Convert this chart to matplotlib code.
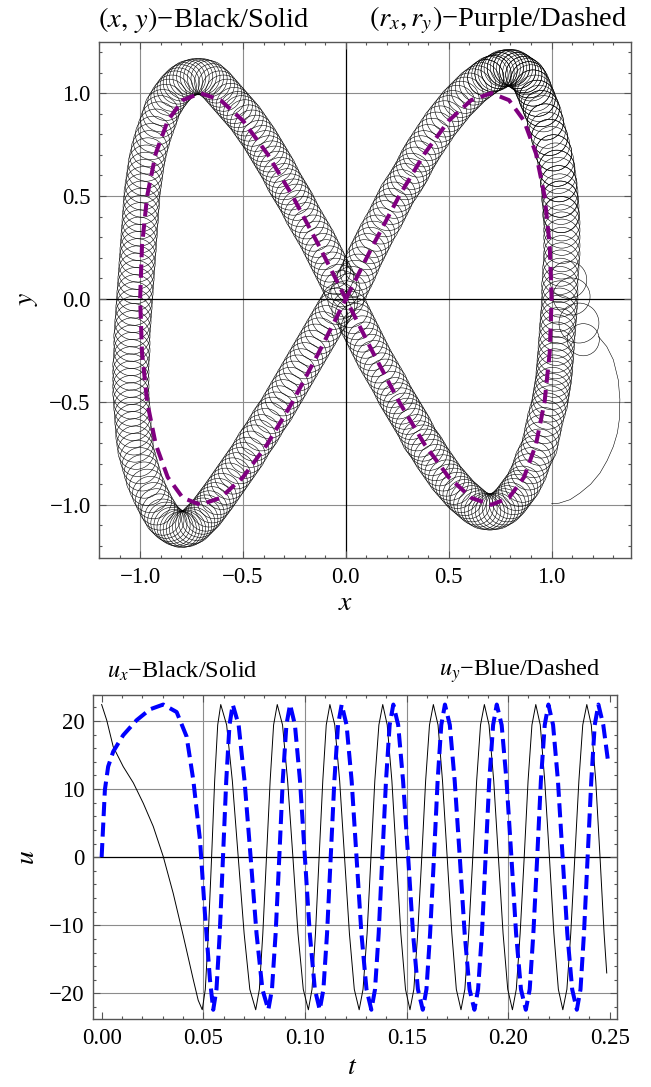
import matplotlib
matplotlib.use('Agg')
import matplotlib.pyplot as plt
from matplotlib.patches import Circle
from matplotlib.ticker import MultipleLocator, FuncFormatter

plt.rcParams['font.family'] = ['Liberation Serif', 'DejaVu Serif']
plt.rcParams['mathtext.fontset'] = 'stix'

# reference path (r_x, r_y)
rx = [0.0, 0.131, 0.259, 0.383, 0.5, 0.609, 0.707, 0.793, 0.866, 0.924, 0.966, 0.991, 1.0,
      0.991, 0.966, 0.924, 0.866, 0.793, 0.707, 0.609, 0.5, 0.383, 0.259, 0.131, 0.0,
      -0.131, -0.259, -0.383, -0.5, -0.609, -0.707, -0.793, -0.866, -0.924, -0.966, -0.991, -1.0,
      -0.991, -0.966, -0.924, -0.866, -0.793, -0.707, -0.609, -0.5, -0.383, -0.259, -0.131, 0.0]
ry = [0.0, 0.259, 0.5, 0.707, 0.866, 0.966, 1.0, 0.966, 0.866, 0.707, 0.5, 0.259, 0.0,
      -0.259, -0.5, -0.707, -0.866, -0.966, -1.0, -0.966, -0.866, -0.707, -0.5, -0.259, 0.0,
      0.259, 0.5, 0.707, 0.866, 0.966, 1.0, 0.966, 0.866, 0.707, 0.5, 0.259, 0.0,
      -0.259, -0.5, -0.707, -0.866, -0.966, -1.0, -0.966, -0.866, -0.707, -0.5, -0.259, 0.0]

# centres of the loops of (x, y), right lobe
right_cx = [0.00, 0.03, 0.06, 0.09, 0.12, 0.15, 0.19, 0.22, 0.25, 0.29,
            0.32, 0.35, 0.38, 0.42, 0.46, 0.50, 0.54, 0.58, 0.62, 0.66,
            0.70, 0.73, 0.76, 0.79, 0.82, 0.85, 0.88, 0.90, 0.92, 0.94,
            0.96, 0.98, 1.00, 1.02, 1.03, 1.04, 1.045, 1.05, 1.05, 1.05,
            1.045, 1.04, 1.04, 1.035, 1.03, 1.025, 1.02, 1.015, 1.01, 1.00,
            0.99, 0.97, 0.955, 0.94, 0.91, 0.89, 0.86, 0.83, 0.80, 0.77,
            0.735, 0.70, 0.665, 0.63, 0.595, 0.56, 0.525, 0.49, 0.455, 0.42,
            0.39, 0.36, 0.33, 0.30, 0.27, 0.24, 0.21, 0.175, 0.14, 0.11,
            0.08, 0.05, 0.02]
right_cy = [0.00, 0.07, 0.13, 0.20, 0.26, 0.32, 0.39, 0.45, 0.51, 0.57,
            0.62, 0.68, 0.73, 0.79, 0.85, 0.90, 0.95, 0.99, 1.03, 1.06,
            1.09, 1.10, 1.12, 1.125, 1.12, 1.10, 1.08, 1.05, 1.00, 0.95,
            0.90, 0.82, 0.75, 0.67, 0.60, 0.52, 0.45, 0.37, 0.30, 0.22,
            0.15, 0.07, 0.00, -0.07, -0.13, -0.20, -0.27, -0.33, -0.39, -0.45,
            -0.51, -0.58, -0.65, -0.72, -0.78, -0.84, -0.90, -0.94, -0.98, -1.01,
            -1.03, -1.035, -1.03, -1.01, -0.98, -0.95, -0.91, -0.87, -0.82, -0.77,
            -0.72, -0.68, -0.62, -0.57, -0.52, -0.47, -0.41, -0.35, -0.29, -0.23,
            -0.17, -0.11, -0.05]
# loops lying between those above
right_cx2 = [0.015, 0.045, 0.075, 0.105, 0.135, 0.17, 0.205, 0.235, 0.27, 0.305,
             0.335, 0.365, 0.40, 0.44, 0.48, 0.52, 0.56, 0.60, 0.64, 0.68,
             0.715, 0.745, 0.775, 0.805, 0.835, 0.865, 0.89, 0.91, 0.93, 0.95,
             0.97, 0.99, 1.01, 1.025, 1.035, 1.0425, 1.0475, 1.05, 1.05, 1.0475,
             1.0425, 1.04, 1.0375, 1.0325, 1.0275, 1.0225, 1.0175, 1.0125, 1.005, 0.995,
             0.98, 0.9625, 0.9475, 0.925, 0.90, 0.875, 0.845, 0.815, 0.785, 0.7525,
             0.7175, 0.6825, 0.6475, 0.6125, 0.5775, 0.5425, 0.5075, 0.4725, 0.4375, 0.405,
             0.375, 0.345, 0.315, 0.285, 0.255, 0.225, 0.1925, 0.1575, 0.125, 0.095,
             0.065, 0.035]
right_cy2 = [0.035, 0.10, 0.165, 0.23, 0.29, 0.355, 0.42, 0.48, 0.54, 0.595,
             0.65, 0.705, 0.76, 0.82, 0.875, 0.925, 0.97, 1.01, 1.045, 1.075,
             1.095, 1.11, 1.1225, 1.1225, 1.11, 1.09, 1.065, 1.025, 0.975, 0.925,
             0.86, 0.785, 0.71, 0.635, 0.56, 0.485, 0.41, 0.335, 0.26, 0.185,
             0.11, 0.035, -0.035, -0.10, -0.165, -0.235, -0.30, -0.36, -0.42, -0.48,
             -0.545, -0.615, -0.685, -0.75, -0.81, -0.87, -0.92, -0.96, -0.995, -1.02,
             -1.0325, -1.0325, -1.02, -0.995, -0.965, -0.93, -0.89, -0.845, -0.795, -0.745,
             -0.70, -0.65, -0.595, -0.545, -0.495, -0.44, -0.38, -0.32, -0.26, -0.20,
             -0.14, -0.08]

# left lobe
left_cx = [-0.02, -0.05, -0.08, -0.11, -0.14, -0.175, -0.21, -0.24, -0.27, -0.30,
           -0.33, -0.36, -0.39, -0.42, -0.455, -0.49, -0.525, -0.56, -0.595, -0.63,
           -0.665, -0.70, -0.735, -0.77, -0.80, -0.83, -0.86, -0.89, -0.91, -0.935,
           -0.955, -0.97, -0.98, -0.99, -0.995, -1.00, -1.005, -1.01, -1.015, -1.02,
           -1.025, -1.03, -1.035, -1.04, -1.04, -1.045, -1.045, -1.045, -1.04, -1.035,
           -1.03, -1.02, -1.00, -0.98, -0.95, -0.92, -0.89, -0.86, -0.83, -0.80,
           -0.77, -0.74, -0.71, -0.68, -0.65, -0.62, -0.585, -0.55, -0.515, -0.48,
           -0.445, -0.41, -0.375, -0.34, -0.305, -0.27, -0.235, -0.20, -0.165, -0.13,
           -0.095, -0.06, -0.03]
left_cy = [0.05, 0.11, 0.17, 0.23, 0.29, 0.35, 0.41, 0.47, 0.52, 0.57,
           0.63, 0.68, 0.73, 0.78, 0.83, 0.88, 0.92, 0.96, 1.00, 1.04,
           1.07, 1.08, 1.08, 1.07, 1.05, 1.02, 0.98, 0.93, 0.87, 0.80,
           0.73, 0.66, 0.59, 0.52, 0.45, 0.38, 0.31, 0.24, 0.17, 0.10,
           0.03, -0.04, -0.11, -0.18, -0.25, -0.32, -0.39, -0.46, -0.53, -0.60,
           -0.67, -0.74, -0.81, -0.88, -0.95, -1.01, -1.06, -1.09, -1.11, -1.12,
           -1.115, -1.10, -1.07, -1.04, -1.00, -0.96, -0.91, -0.86, -0.81, -0.76,
           -0.70, -0.65, -0.59, -0.54, -0.48, -0.42, -0.36, -0.30, -0.24, -0.18,
           -0.12, -0.06, -0.01]
left_cx2 = [-0.035, -0.065, -0.095, -0.125, -0.1575, -0.1925, -0.225, -0.255, -0.285, -0.315,
            -0.345, -0.375, -0.405, -0.4375, -0.4725, -0.5075, -0.5425, -0.5775, -0.6125, -0.6475,
            -0.6825, -0.7175, -0.7525, -0.785, -0.815, -0.845, -0.875, -0.90, -0.9225, -0.945,
            -0.9625, -0.975, -0.985, -0.9925, -0.9975, -1.0025, -1.0075, -1.0125, -1.0175, -1.0225,
            -1.0275, -1.0325, -1.0375, -1.04, -1.0425, -1.045, -1.045, -1.0425, -1.0375, -1.0325,
            -1.025, -1.01, -0.99, -0.965, -0.935, -0.905, -0.875, -0.845, -0.815, -0.785,
            -0.755, -0.725, -0.695, -0.665, -0.635, -0.6025, -0.5675, -0.5325, -0.4975, -0.4625,
            -0.4275, -0.3925, -0.3575, -0.3225, -0.2875, -0.2525, -0.2175, -0.1825, -0.1475, -0.1125,
            -0.0775, -0.045]
left_cy2 = [0.08, 0.14, 0.20, 0.26, 0.32, 0.38, 0.44, 0.495, 0.545, 0.60,
            0.655, 0.705, 0.755, 0.805, 0.855, 0.90, 0.94, 0.98, 1.02, 1.055,
            1.075, 1.08, 1.075, 1.06, 1.035, 1.00, 0.955, 0.90, 0.835, 0.765,
            0.695, 0.625, 0.555, 0.485, 0.415, 0.345, 0.275, 0.205, 0.135, 0.065,
            -0.005, -0.075, -0.145, -0.215, -0.285, -0.355, -0.425, -0.495, -0.565, -0.635,
            -0.705, -0.775, -0.845, -0.915, -0.98, -1.035, -1.075, -1.10, -1.115, -1.1175,
            -1.1075, -1.085, -1.055, -1.02, -0.98, -0.935, -0.885, -0.835, -0.785, -0.73,
            -0.675, -0.62, -0.565, -0.51, -0.45, -0.39, -0.33, -0.27, -0.21, -0.15,
            -0.09, -0.035]

# second pass over the upper right side
extra_cx = [1.045, 1.04, 1.035, 1.025, 1.01, 0.99, 0.97, 0.95, 0.93, 0.91,
            0.89, 0.865, 0.835, 0.805, 0.775, 0.745, 0.715, 0.68]
extra_cy = [0.41, 0.485, 0.56, 0.635, 0.71, 0.785, 0.86, 0.925, 0.975, 1.025,
            1.065, 1.09, 1.11, 1.125, 1.12, 1.11, 1.095, 1.075]

# start of the trajectory
start_x = [1.0, 1.037, 1.09, 1.138, 1.19, 1.235, 1.27, 1.30, 1.32, 1.329, 1.332,
           1.324, 1.30, 1.268, 1.227]
start_y = [-0.995, -0.992, -0.975, -0.943, -0.90, -0.846, -0.785, -0.717, -0.65, -0.587, -0.488,
           -0.393, -0.295, -0.231, -0.182]
start_loop_x = [1.154, 1.133, 1.097, 1.081]
start_loop_y = [-0.198, -0.117, 0.012, 0.093]
start_loop_r = [0.078, 0.097, 0.09, 0.09]
loop_r = 0.088

# control inputs
t_ux = [0.0, 0.0025, 0.0057, 0.0106, 0.0156, 0.0205, 0.0254, 0.0303, 0.0352, 0.0402, 0.0451, 0.0475, 0.0495,
        0.0510, 0.0525, 0.0541, 0.0556, 0.0571, 0.0586,
        0.0615, 0.0643, 0.0672, 0.0701, 0.0729, 0.0758,
        0.0776, 0.0793, 0.0811, 0.0829, 0.0846, 0.0864,
        0.0890, 0.0915, 0.0941, 0.0966, 0.0992, 0.1017,
        0.1035, 0.1052, 0.1070, 0.1088, 0.1105, 0.1123,
        0.1147, 0.1171, 0.1195, 0.1219, 0.1243, 0.1267,
        0.1286, 0.1306, 0.1325, 0.1344, 0.1364, 0.1383,
        0.1405, 0.1428, 0.1450, 0.1472, 0.1495, 0.1517,
        0.1536, 0.1555, 0.1575, 0.1594, 0.1613, 0.1632,
        0.1655, 0.1677, 0.1700, 0.1723, 0.1745, 0.1768,
        0.1787, 0.1806, 0.1826, 0.1845, 0.1864, 0.1883,
        0.1906, 0.1929, 0.1952, 0.1975, 0.1998, 0.2021,
        0.2040, 0.2059, 0.2079, 0.2098, 0.2117, 0.2136,
        0.2158, 0.2180, 0.2203, 0.2225, 0.2247, 0.2269,
        0.2289, 0.2308, 0.2328, 0.2348, 0.2367, 0.2387,
        0.2409, 0.2431, 0.2452, 0.2472, 0.2485]
ux = [22.4, 20.1, 16.2, 13.3, 10.9, 7.9, 4.5, 0.1, -5.3, -11.6, -18.0, -21.0, -22.4,
      -19.4, -11.2, 0.0, 11.2, 19.4, 22.4,
      19.4, 11.2, 0.0, -11.2, -19.4, -22.4,
      -19.4, -11.2, 0.0, 11.2, 19.4, 22.4,
      19.4, 11.2, 0.0, -11.2, -19.4, -22.4,
      -19.4, -11.2, 0.0, 11.2, 19.4, 22.4,
      19.4, 11.2, 0.0, -11.2, -19.4, -22.4,
      -19.4, -11.2, 0.0, 11.2, 19.4, 22.4,
      19.4, 11.2, 0.0, -11.2, -19.4, -22.4,
      -19.4, -11.2, 0.0, 11.2, 19.4, 22.4,
      19.4, 11.2, 0.0, -11.2, -19.4, -22.4,
      -19.4, -11.2, 0.0, 11.2, 19.4, 22.4,
      19.4, 11.2, 0.0, -11.2, -19.4, -22.4,
      -19.4, -11.2, 0.0, 11.2, 19.4, 22.4,
      19.4, 11.2, 0.0, -11.2, -19.4, -22.4,
      -19.4, -11.2, 0.0, 11.2, 19.4, 22.4,
      19.4, 11.2, 0.0, -11.2, -17.0]

t_uy = [0.0, 0.0016, 0.0032, 0.0057, 0.0106, 0.0172, 0.0238, 0.0303, 0.0369, 0.0418, 0.0451, 0.0484,
        0.0508, 0.0533, 0.0549,
        0.0565, 0.0581, 0.0597, 0.0613, 0.0629, 0.0645,
        0.0674, 0.0703, 0.0733, 0.0762, 0.0791, 0.0820,
        0.0838, 0.0856, 0.0874, 0.0891, 0.0909, 0.0927,
        0.0951, 0.0976, 0.1000, 0.1024, 0.1049, 0.1073,
        0.1091, 0.1109, 0.1127, 0.1145, 0.1163, 0.1181,
        0.1205, 0.1230, 0.1254, 0.1278, 0.1303, 0.1327,
        0.1345, 0.1363, 0.1381, 0.1399, 0.1417, 0.1435,
        0.1459, 0.1483, 0.1508, 0.1532, 0.1556, 0.1580,
        0.1598, 0.1616, 0.1635, 0.1653, 0.1671, 0.1689,
        0.1713, 0.1737, 0.1762, 0.1786, 0.1810, 0.1834,
        0.1852, 0.1871, 0.1889, 0.1907, 0.1926, 0.1944,
        0.1968, 0.1992, 0.2016, 0.2039, 0.2063, 0.2087,
        0.2106, 0.2124, 0.2143, 0.2161, 0.2180, 0.2198,
        0.2221, 0.2245, 0.2268, 0.2291, 0.2315, 0.2338,
        0.2356, 0.2373, 0.2391, 0.2409, 0.2426, 0.2444,
        0.2468, 0.2490]
uy = [0.0, 9.9, 13.3, 15.5, 17.9, 20.1, 21.7, 22.4, 21.3, 17.7, 11.3, 2.5, -8.2, -18.0, -22.4,
      -19.4, -11.2, 0.0, 11.2, 19.4, 22.4,
      19.4, 11.2, 0.0, -11.2, -19.4, -22.4,
      -19.4, -11.2, 0.0, 11.2, 19.4, 22.4,
      19.4, 11.2, 0.0, -11.2, -19.4, -22.4,
      -19.4, -11.2, 0.0, 11.2, 19.4, 22.4,
      19.4, 11.2, 0.0, -11.2, -19.4, -22.4,
      -19.4, -11.2, 0.0, 11.2, 19.4, 22.4,
      19.4, 11.2, 0.0, -11.2, -19.4, -22.4,
      -19.4, -11.2, 0.0, 11.2, 19.4, 22.4,
      19.4, 11.2, 0.0, -11.2, -19.4, -22.4,
      -19.4, -11.2, 0.0, 11.2, 19.4, 22.4,
      19.4, 11.2, 0.0, -11.2, -19.4, -22.4,
      -19.4, -11.2, 0.0, 11.2, 19.4, 22.4,
      19.4, 11.2, 0.0, -11.2, -19.4, -22.4,
      -19.4, -11.2, 0.0, 11.2, 19.4, 22.4,
      19.4, 14.4]

W, H = 651, 1087
FRAME = '#555555'
GRID = '#8c8c8c'


def px(x, y):
    return x / W, 1 - y / H


def minus(s):
    return s.replace('-', '\u2212')


def style(ax):
    for sp in ax.spines.values():
        sp.set_color(FRAME)
        sp.set_linewidth(1.0)
    ax.tick_params(which='both', direction='in', top=True, right=True,
                   color=FRAME, width=0.8, labelsize=16.5, pad=6)
    ax.tick_params(which='major', length=5)
    ax.tick_params(which='minor', length=2.5)


fig = plt.figure(figsize=(W / 100, H / 100), dpi=100)

# trajectory
ax1 = fig.add_axes([99 / W, 1 - 558.3 / H, 532 / W, 516.6 / H])
ax1.set_xlim(-1.2, 1.386)
ax1.set_ylim(-1.26, 1.25)
for v in [-1.0, -0.5, 0.5, 1.0]:
    ax1.axvline(v, color=GRID, lw=0.8, zorder=0)
    ax1.axhline(v, color=GRID, lw=0.8, zorder=0)
ax1.axvline(0, color='black', lw=0.9, zorder=0.5)
ax1.axhline(0, color='black', lw=0.9, zorder=0.5)

all_cx = right_cx + right_cx2 + left_cx + left_cx2 + extra_cx
all_cy = right_cy + right_cy2 + left_cy + left_cy2 + extra_cy
for cx, cy in zip(all_cx, all_cy):
    ax1.add_patch(Circle((cx, cy), loop_r, fill=False, ec='black', lw=0.4, zorder=2))
for cx, cy, r in zip(start_loop_x, start_loop_y, start_loop_r):
    ax1.add_patch(Circle((cx, cy), r, fill=False, ec='black', lw=0.4, zorder=2))
ax1.plot(start_x, start_y, color='black', lw=0.4, zorder=2)

ax1.plot(rx, ry, color=(0.5, 0, 0.5), lw=2.9, dashes=(3.3, 1.8), zorder=4)

ax1.xaxis.set_major_locator(MultipleLocator(0.5))
ax1.xaxis.set_minor_locator(MultipleLocator(0.1))
ax1.yaxis.set_major_locator(MultipleLocator(0.5))
ax1.yaxis.set_minor_locator(MultipleLocator(0.1))
fmt1 = FuncFormatter(lambda v, p: minus('%.1f' % (0.0 if abs(v) < 1e-9 else v)))
ax1.xaxis.set_major_formatter(fmt1)
ax1.yaxis.set_major_formatter(fmt1)
style(ax1)

# inputs
ax2 = fig.add_axes([92.7 / W, 1 - 1019.3 / H, 524.6 / W, 324.3 / H])
ax2.set_xlim(-0.0044, 0.2537)
ax2.set_ylim(-23.8, 23.8)
for v in [0.05, 0.10, 0.15, 0.20]:
    ax2.axvline(v, color=GRID, lw=0.8, zorder=0)
for v in [-20, -10, 10, 20]:
    ax2.axhline(v, color=GRID, lw=0.8, zorder=0)
ax2.axhline(0, color='black', lw=0.9, zorder=0.5)

ax2.plot(t_ux, ux, color='black', lw=0.7, zorder=2)
ax2.plot(t_uy, uy, color='blue', lw=2.9, dashes=(3.5, 1.6), zorder=3)

ax2.xaxis.set_major_locator(MultipleLocator(0.05))
ax2.xaxis.set_minor_locator(MultipleLocator(0.01))
ax2.yaxis.set_major_locator(MultipleLocator(10))
ax2.yaxis.set_minor_locator(MultipleLocator(2))
ax2.xaxis.set_major_formatter(FuncFormatter(lambda v, p: '%.2f' % (0.0 if abs(v) < 1e-9 else v)))
ax2.yaxis.set_major_formatter(FuncFormatter(lambda v, p: minus('%d' % round(v))))
style(ax2)

# labels
fig.text(*px(98, 20), r'$(x,\,y)$' + '\u2212Black/Solid', ha='left', va='center', fontsize=20.5)
fig.text(*px(627, 20), r'$(r_x,r_y)$' + '\u2212Purple/Dashed', ha='right', va='center', fontsize=20.5)
fig.text(*px(346, 604), r'$x$', ha='center', va='center', fontsize=20)
fig.text(*px(28, 299), r'$y$', ha='center', va='center', fontsize=20, rotation=90)
fig.text(*px(107, 671), r'$u_x$' + '\u2212Black/Solid', ha='left', va='center', fontsize=17.5)
fig.text(*px(600, 671), r'$u_y$' + '\u2212Blue/Dashed', ha='right', va='center', fontsize=17.5)
fig.text(*px(28, 857), r'$u$', ha='center', va='center', fontsize=20, rotation=90)
fig.text(*px(352, 1068), r'$t$', ha='center', va='center', fontsize=20)

fig.savefig('out.png', dpi=100)
